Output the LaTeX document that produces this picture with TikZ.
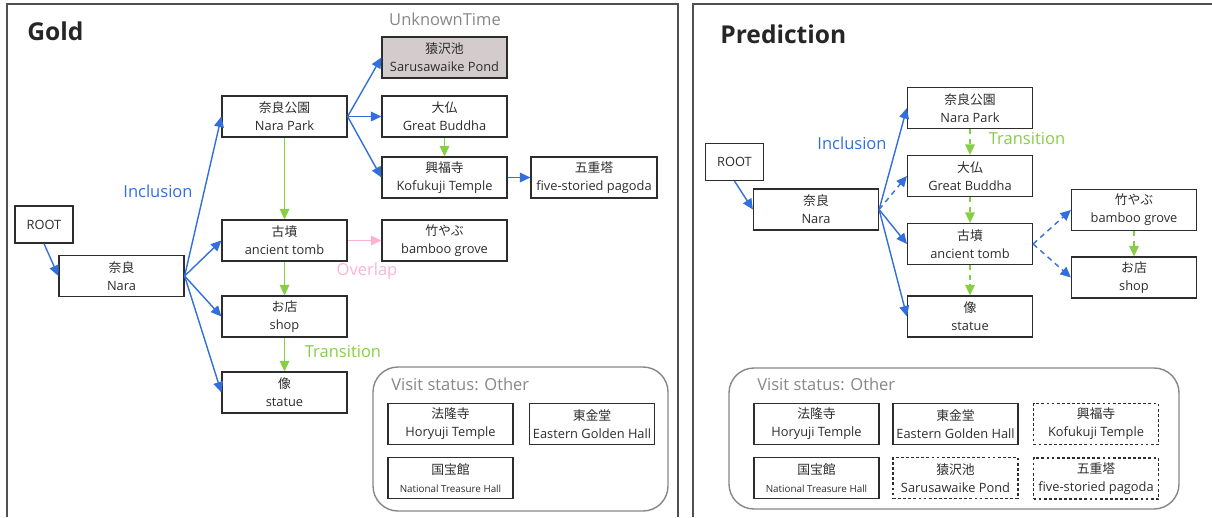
\documentclass[tikz,border=0pt]{standalone}
\usepackage{fontspec}
\setmainfont{Open Sans}
\newfontfamily\jpfont{Noto Sans CJK JP}
\usepackage{tikz}
\usetikzlibrary{arrows.meta}

\definecolor{incblue}{RGB}{50,110,220}
\definecolor{trgreen}{RGB}{135,205,70}
\definecolor{ovpink}{RGB}{250,180,210}
\definecolor{unkfill}{RGB}{212,204,204}
\definecolor{framegray}{RGB}{80,80,80}
\definecolor{boxgray}{RGB}{135,135,135}
\definecolor{txtgray}{RGB}{45,45,45}

\newcommand{\spot}[2]{{\jpfont #1}\\#2}

\tikzset{
    place/.style={draw=txtgray, line width=0.7pt, fill=white, text=txtgray, align=center,
        minimum width=2.5cm, minimum height=0.82cm, inner sep=1pt,
        font=\fontsize{7.3}{10.2}\selectfont},
    guess/.style={place, dash pattern=on 1.6pt off 1.3pt},
    tip/.style={-{Triangle[length=6pt,width=5.5pt]}},
    incl/.style={incblue, line width=0.8pt, tip},
    trans/.style={trgreen, line width=0.8pt, tip},
    overl/.style={ovpink, line width=0.8pt, tip},
    guessline/.style={dash pattern=on 3pt off 2.5pt},
    relname/.style={font=\fontsize{9.4}{11}\selectfont},
    paneltitle/.style={font=\fontsize{14}{16}\selectfont\bfseries, text=black!85, anchor=west, inner sep=0pt},
    statuslabel/.style={relname, text=boxgray, anchor=west, inner sep=0pt}
}

\begin{document}
\begin{tikzpicture}[x=0.02cm, y=-0.02cm]
        \useasboundingbox (0,0) rectangle (1212,517);

        % panels
        \draw[framegray, line width=1pt] (7,517) -- (7,4) -- (678,4) -- (678,517);
        \draw[framegray, line width=1pt] (693,517) -- (693,4) -- (1212,4);
        \node[paneltitle] (goldtitle) at (27,31) {Gold};
        \node[paneltitle] (predtitle) at (720,34) {Prediction};

        % Gold
        \node[place, minimum width=1.16cm, minimum height=0.74cm] (root) at (44,224.5) {ROOT};
        \node[place] (nara) at (121.5,276) {\spot{奈良}{Nara}};
        \node[place] (narapark) at (284.5,116.5) {\spot{奈良公園}{Nara Park}};
        \node[place] (tomb) at (284.5,240.5) {\spot{古墳}{ancient tomb}};
        \node[place] (shop) at (284.5,316.5) {\spot{お店}{shop}};
        \node[place] (statue) at (284.5,392.5) {\spot{像}{statue}};
        \node[place, fill=unkfill] (sarusawa) at (444.5,57.5) {\spot{猿沢池}{Sarusawaike Pond}};
        \node[place] (buddha) at (444.5,116.5) {\spot{大仏}{Great Buddha}};
        \node[place] (kofuku) at (444.5,177.5) {\spot{興福寺}{Kofukuji Temple}};
        \node[place, minimum width=2.52cm] (pagoda) at (594,177.5) {\spot{五重塔}{five-storied pagoda}};
        \node[place] (bamboo) at (444.5,240.5) {\spot{竹やぶ}{bamboo grove}};

        \node[relname, text=boxgray] (unknown) at (445,19) {UnknownTime};
        \node[relname, text=incblue] (inclabel) at (158,191) {Inclusion};
        \node[relname, text=ovpink] (ovlabel) at (367,271) {Overlap};
        \node[relname, text=trgreen] (trlabel) at (343,352) {Transition};

        \draw[incl] (root.south) -- (nara.west);
        \draw[incl] (nara.east) -- (narapark.west);
        \draw[incl] (nara.east) -- (tomb.west);
        \draw[incl] (nara.east) -- (shop.west);
        \draw[incl] (nara.east) -- (statue.west);
        \draw[incl] (narapark.east) -- (sarusawa.west);
        \draw[incl] (narapark.east) -- (buddha.west);
        \draw[incl] (narapark.east) -- (kofuku.west);
        \draw[incl] (kofuku) -- (pagoda);
        \draw[trans] (narapark) -- (tomb);
        \draw[trans] (buddha) -- (kofuku);
        \draw[trans] (tomb) -- (shop);
        \draw[trans] (shop) -- (statue);
        \draw[overl] (tomb) -- (bamboo);

        \draw[boxgray, line width=0.8pt, rounded corners=0.5cm] (373,367) rectangle (668,511);
        \node[statuslabel] (status) at (391,384) {Visit status: Other};
        \node[place] (horyuji) at (450.5,424) {\spot{法隆寺}{Horyuji Temple}};
        \node[place] (eastern) at (592,424) {\spot{東金堂}{Eastern Golden Hall}};
        \node[place] (national) at (450.5,478) {{\jpfont 国宝館}\\{\fontsize{5.6}{9}\selectfont National Treasure Hall}};

        % Prediction
        \node[place, minimum width=1.16cm, minimum height=0.74cm] (proot) at (734.5,162) {ROOT};
        \node[place] (pnara) at (816,209.5) {\spot{奈良}{Nara}};
        \node[place] (pnarapark) at (970,108) {\spot{奈良公園}{Nara Park}};
        \node[place] (pbuddha) at (970,176) {\spot{大仏}{Great Buddha}};
        \node[place] (ptomb) at (970,244) {\spot{古墳}{ancient tomb}};
        \node[place] (pstatue) at (970,316.5) {\spot{像}{statue}};
        \node[place] (pbamboo) at (1134,210) {\spot{竹やぶ}{bamboo grove}};
        \node[place] (pshop) at (1134,277.5) {\spot{お店}{shop}};

        \node[relname, text=incblue] (pinclabel) at (852,143) {Inclusion};
        \node[relname, text=trgreen] (ptrlabel) at (1027,139) {Transition};

        \draw[incl] (proot.south) -- (pnara.west);
        \draw[incl] (pnara.east) -- (pnarapark.west);
        \draw[incl, guessline] (pnara.east) -- (pbuddha.west);
        \draw[incl] (pnara.east) -- (ptomb.west);
        \draw[incl] (pnara.east) -- (pstatue.west);
        \draw[incl, guessline] (ptomb.east) -- (pbamboo.west);
        \draw[incl, guessline] (ptomb.east) -- (pshop.west);
        \draw[trans, guessline] (pnarapark) -- (pbuddha);
        \draw[trans, guessline] (pbuddha) -- (ptomb);
        \draw[trans, guessline] (ptomb) -- (pstatue);
        \draw[trans, guessline] (pbamboo) -- (pshop);

        \draw[boxgray, line width=0.8pt, rounded corners=0.5cm] (729,368) rectangle (1179,509);
        \node[statuslabel] (pstatus) at (757,384) {Visit status: Other};
        \node[place] (phoryuji) at (816.5,424) {\spot{法隆寺}{Horyuji Temple}};
        \node[place] (peastern) at (955.5,424) {\spot{東金堂}{Eastern Golden Hall}};
        \node[guess] (pkofuku) at (1096,424) {\spot{興福寺}{Kofukuji Temple}};
        \node[place] (pnational) at (816.5,478) {{\jpfont 国宝館}\\{\fontsize{5.6}{9}\selectfont National Treasure Hall}};
        \node[guess] (psarusawa) at (955.5,478) {\spot{猿沢池}{Sarusawaike Pond}};
        \node[guess] (ppagoda) at (1096,478.5) {\spot{五重塔}{five-storied pagoda}};
    \end{tikzpicture}
\end{document}
